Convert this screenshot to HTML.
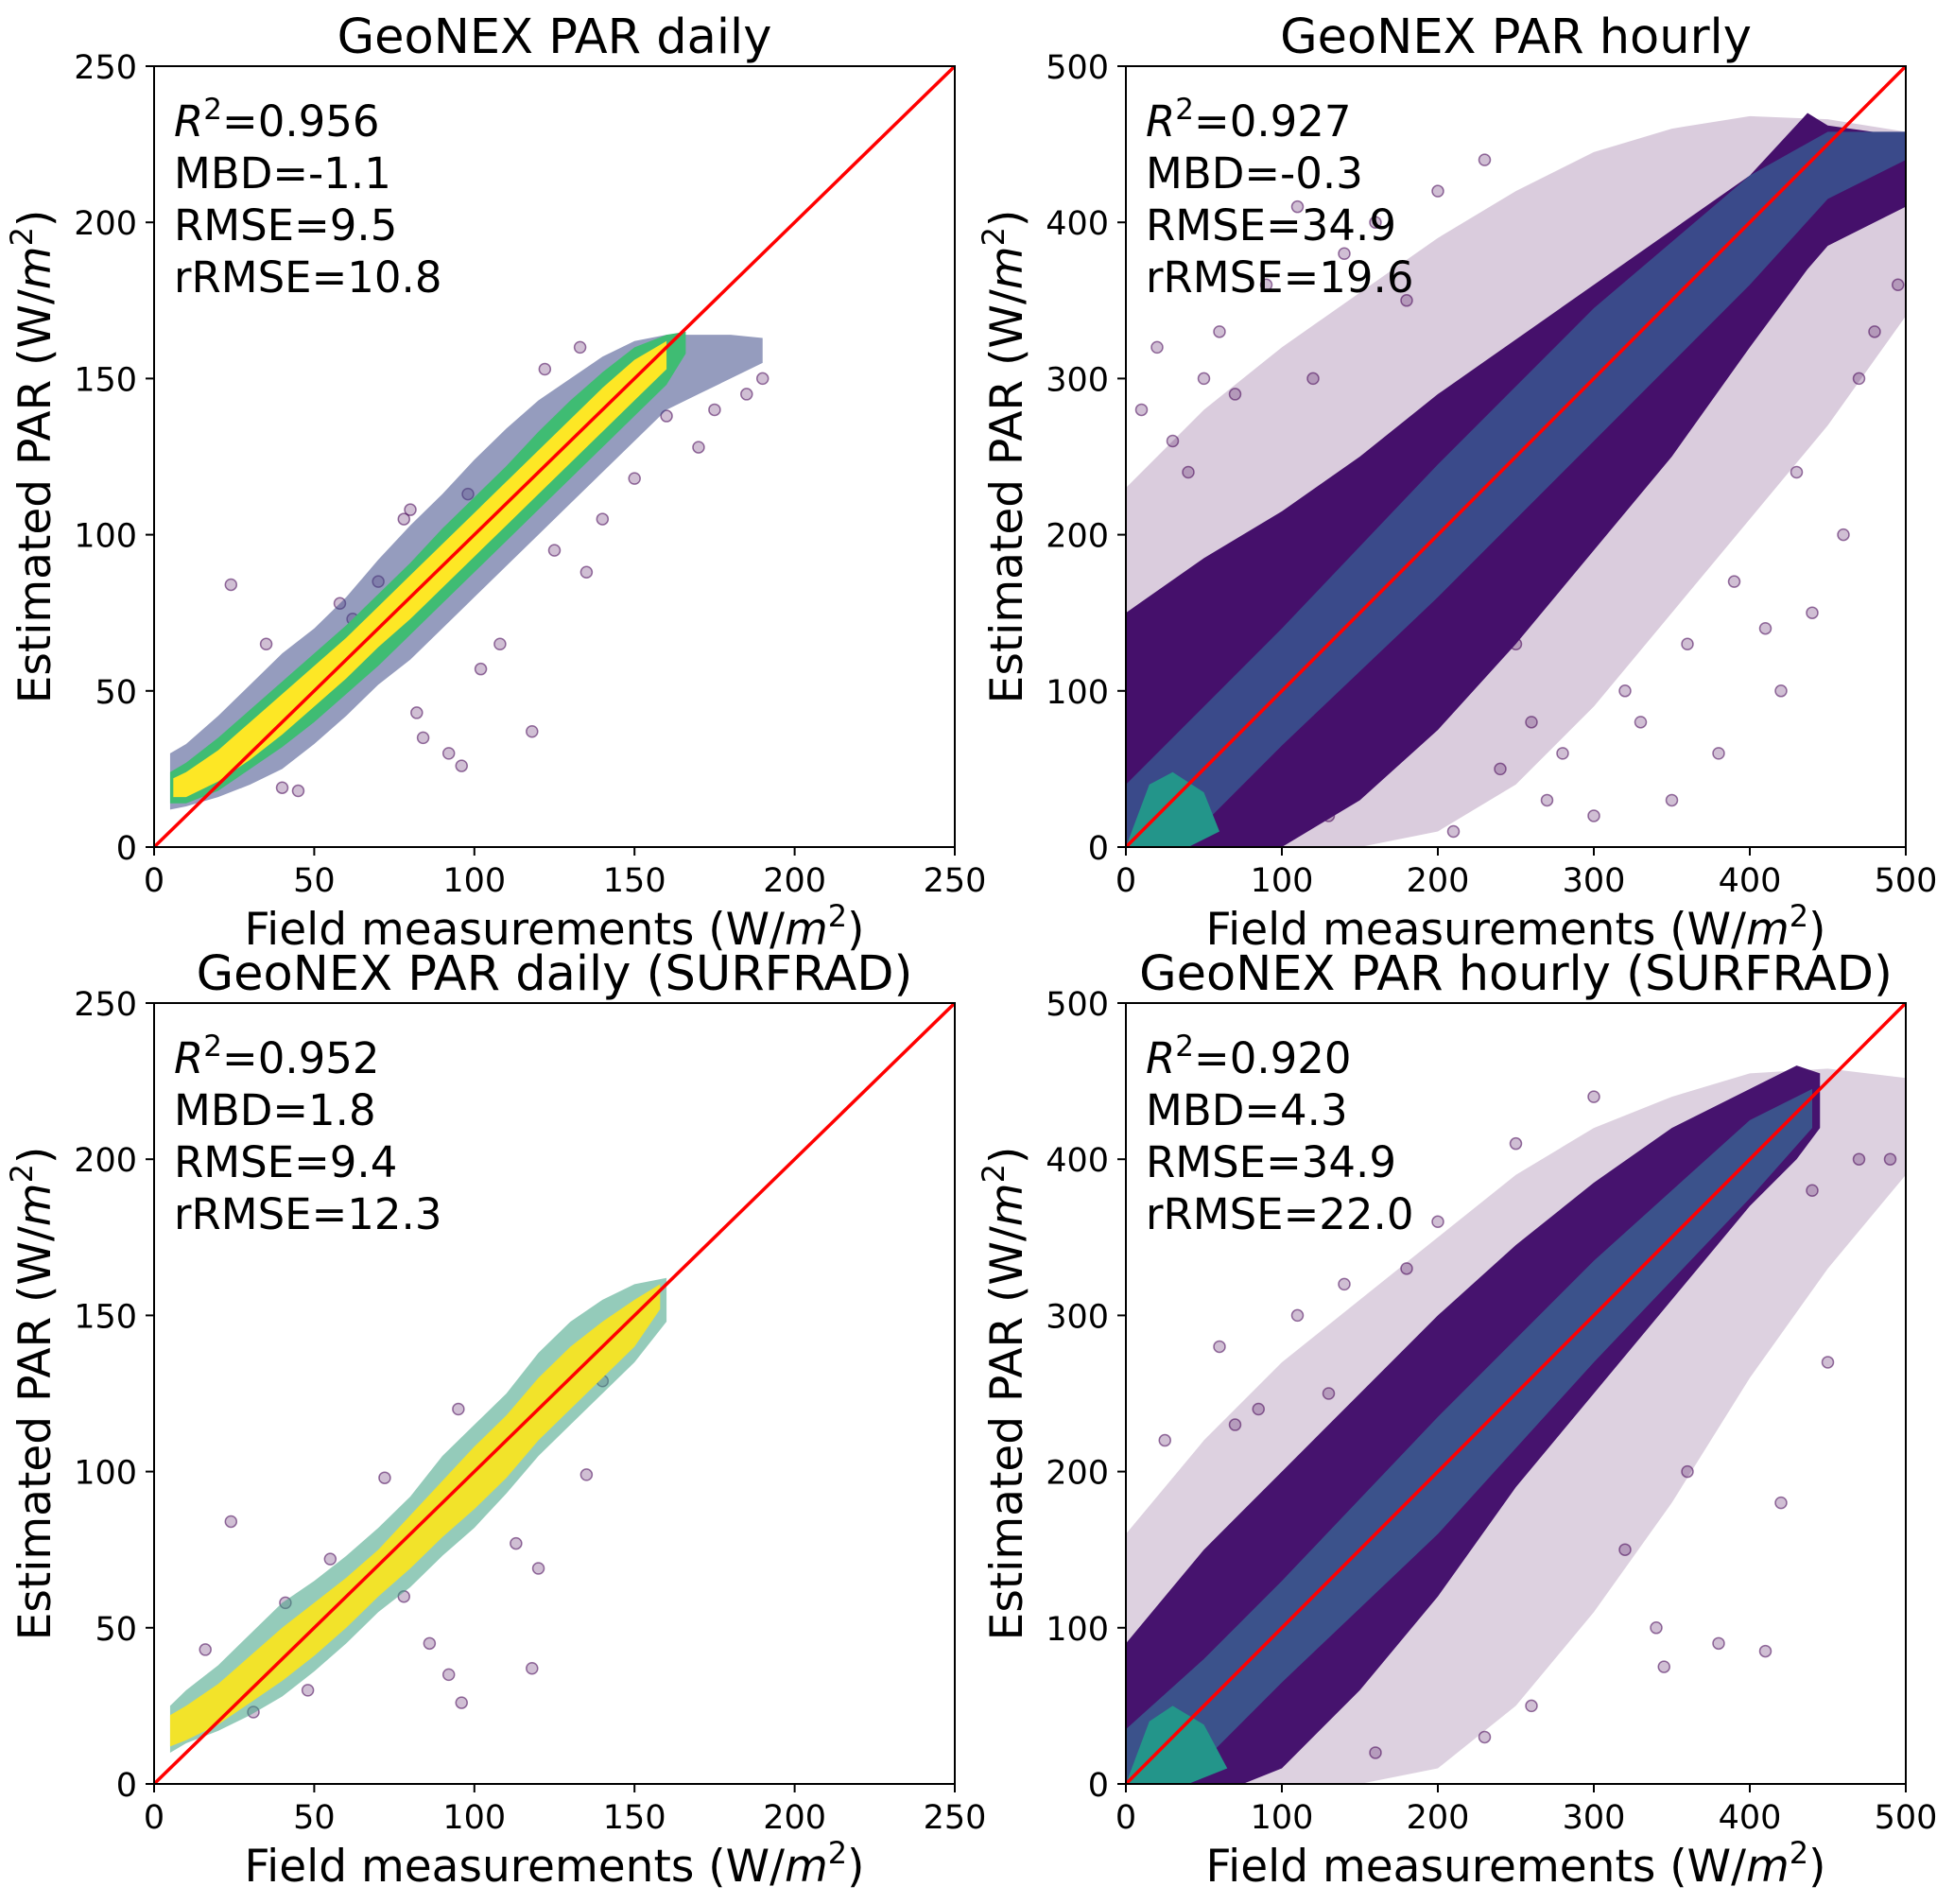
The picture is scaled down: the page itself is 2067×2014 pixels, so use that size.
<!DOCTYPE html>
<html><head><meta charset="utf-8"><style>
html,body{margin:0;padding:0;background:#fff;}
svg{display:block;font-family:"DejaVu Sans","Liberation Sans",sans-serif;}
</style></head><body>
<svg id="fig" width="2067" height="2014" viewBox="0 0 2067 2014" xmlns="http://www.w3.org/2000/svg"></svg>
<script>
// ---------- Panel 1: daily ----------
const p1OuterX = [5,10,20,30,40,50,60,70,80,90,100,110,120,130,140,150,160,170,180,190];
const p1OuterHi = [30,33,42,52,62,70,80,92,103,113,124,134,143,150,157,162,164,164,164,163];
const p1OuterLo = [12,13,16,20,25,33,42,52,60,70,80,90,100,110,120,130,140,145,150,155];
const p1MidX = [5,10,20,30,40,50,60,70,80,90,100,110,120,130,140,150,160,166];
const p1MidHi = [24,27,35,44,53,62,71,81,91,102,112,122,133,143,152,160,164,165];
const p1MidLo = [14,14,18,25,32,40,49,58,68,78,88,98,108,118,128,138,148,158];
const p1CoreX = [6,10,20,30,40,50,60,70,80,90,100,110,120,130,140,150,160];
const p1CoreHi = [22,24,31,40,49,58,67,77,87,97,107,117,127,137,147,156,162];
const p1CoreLo = [16,16,21,28,36,45,54,64,73,83,93,103,113,123,133,143,153];
const p1PtX = [24,118,96,92,84,82,20,35,62,70,78,80,135,140,150,170,185,190,122,133,45,40,102,108,58,98,125,113,160,175];
const p1PtY = [84,37,26,30,35,43,30,65,73,85,105,108,88,105,118,128,145,150,153,160,18,19,57,65,78,113,95,110,138,140];
// ---------- Panel 2: hourly ----------
const p2HaloX = [0,50,100,150,200,250,300,350,400,450,500];
const p2HaloHi = [230,280,320,355,390,420,445,460,468,466,458];
const p2HaloLo = [0,0,0,0,10,40,90,150,210,270,340];
const p2OuterX = [0,50,100,150,200,250,300,350,400,437,450,500];
const p2OuterHi = [150,185,215,250,290,325,360,395,430,470,462,455];
const p2OuterLo = [0,0,0,30,75,130,190,250,320,370,385,410];
const p2MidX = [0,50,100,200,300,400,450,500];
const p2MidHi = [40,90,140,245,345,430,458,458];
const p2MidLo = [0,15,65,160,260,360,415,440];
const p2CoreX = [0,15,30,50,60,40,20];
const p2CoreY = [0,40,48,35,10,0,0];
const p2PtX = [120,180,60,30,10,250,330,380,420,480,495,460,440,300,350,210,150,95,70,270,140,110,90,50,40,200,230,160,320,360,390,410,470,430,280,260,240,130,80,20];
const p2PtY = [300,350,330,260,280,130,80,60,100,330,360,200,150,20,30,10,60,5,290,30,380,410,360,300,240,420,440,400,100,130,170,140,300,240,60,80,50,20,30,320];
// ---------- Panel 3: daily SURFRAD ----------
const p3OuterX = [5,10,20,30,40,50,60,70,80,90,100,110,120,130,140,150,160];
const p3OuterHi = [25,30,38,48,58,65,73,82,92,105,115,125,138,148,155,160,162];
const p3OuterLo = [10,13,17,22,28,36,45,55,63,73,82,93,105,115,125,135,148];
const p3CoreX = [5,10,20,30,40,50,60,70,80,90,100,110,120,130,140,150,158];
const p3CoreHi = [22,25,32,41,50,58,66,75,86,97,108,118,130,140,148,155,160];
const p3CoreLo = [12,14,19,26,33,41,50,60,69,79,88,98,110,120,130,140,152];
const p3PtX = [24,118,96,92,86,113,135,16,31,48,62,78,105,95,72,55,41,120,140,145];
const p3PtY = [84,37,26,35,45,77,99,43,23,30,64,60,110,120,98,72,58,69,129,140];
// ---------- Panel 4: hourly SURFRAD ----------
const p4HaloX = [0,50,100,150,200,250,300,350,400,450,500];
const p4HaloHi = [160,220,270,310,350,390,420,440,455,458,452];
const p4HaloLo = [0,0,0,0,10,50,110,180,260,330,390];
const p4OuterX = [0,25,50,75,100,150,200,250,300,350,400,430,445];
const p4OuterHi = [90,120,150,175,200,250,300,345,385,420,445,460,455];
const p4OuterLo = [0,0,0,0,10,60,120,190,250,310,370,400,420];
const p4MidX = [0,50,100,200,300,400,440];
const p4MidHi = [35,80,130,235,335,425,445];
const p4MidLo = [0,15,65,160,270,375,420];
const p4CoreX = [0,15,30,50,65,40,20];
const p4CoreY = [0,40,50,38,10,0,0];
const p4PtX = [25,85,60,140,200,340,380,490,470,420,410,345,260,230,160,300,110,130,180,250,320,360,440,450,90,70];
const p4PtY = [220,240,280,320,360,100,90,400,400,180,85,75,50,30,20,440,300,250,330,410,150,200,380,270,20,230];

const NS = 'http://www.w3.org/2000/svg';
const svg = document.getElementById('fig');
function el(tag, attrs, parent){ const e=document.createElementNS(NS,tag); for(const k in attrs) e.setAttribute(k,attrs[k]); (parent||svg).appendChild(e); return e; }

function makeScales(L,T,W,H,max){ return { x:v=>L+v/max*W, y:v=>T+H-v/max*H }; }

function band(g, s, xs, hi, lo, fill, name){
  let pts = xs.map((x,i)=>s.x(x)+','+s.y(hi[i]));
  for(let i=xs.length-1;i>=0;i--) pts.push(s.x(xs[i])+','+s.y(lo[i]));
  const p = el('polygon',{points:pts.join(' '),fill:fill},g);
  
  
}
function blob(g, s, xs, ys, fill, name){
  const p = el('polygon',{points:xs.map((x,i)=>s.x(x)+','+s.y(ys[i])).join(' '),fill:fill},g);
  
  
}
function points(g, s, xs, ys, fill, stroke){
  xs.forEach((x,i)=>{
    const c = el('circle',{cx:s.x(x),cy:s.y(ys[i]),r:6,fill:fill,stroke:stroke,'stroke-width':1.5},g);
    
    
  });
}

function panel(id, L,T,W,H,max,step,title,stats,draw){
  const s = makeScales(L,T,W,H,max);
  const g = el('g',{});
  
  
  const cp = el('clipPath',{id:'clip-'+id},g);
  el('rect',{x:L,y:T,width:W,height:H},cp);
  const plot = el('g',{'clip-path':'url(#clip-'+id+')'},g);
  
  
  draw(plot,s);
  const ln = el('line',{x1:s.x(0),y1:s.y(0),x2:s.x(max),y2:s.y(max),stroke:'#ff0000','stroke-width':3.5},plot);
  
  
  const fr = el('rect',{x:L,y:T,width:W,height:H,fill:'none',stroke:'#000','stroke-width':2},g);
  
  
  for(let v=0; v<=max; v+=step){
    el('line',{x1:s.x(v),y1:T+H,x2:s.x(v),y2:T+H+9,stroke:'#000','stroke-width':2},g);
    const tx = el('text',{x:s.x(v),y:T+H+47,'font-size':35,'text-anchor':'middle'},g);
    tx.textContent = v;
    
    
    el('line',{x1:L-9,y1:s.y(v),x2:L,y2:s.y(v),stroke:'#000','stroke-width':2},g);
    const ty = el('text',{x:L-18,y:s.y(v)+13,'font-size':35,'text-anchor':'end'},g);
    ty.textContent = v;
    
    
  }
  const t = el('text',{x:L+W/2,y:T-14,'font-size':51,'text-anchor':'middle'},g);
  t.textContent = title;
  
  
  const xl = el('text',{x:L+W/2,y:T+H+103,'font-size':47,'text-anchor':'middle'},g);
  xl.innerHTML = 'Field measurements (W/<tspan font-style="italic">m</tspan><tspan font-size="32" dy="-19">2</tspan><tspan dy="19">)</tspan>';
  
  
  const cx = L-110, cy = T+H/2;
  const yl = el('text',{x:cx,y:cy,'font-size':47,'text-anchor':'middle',transform:'rotate(-90 '+cx+' '+cy+')'},g);
  yl.innerHTML = 'Estimated PAR (W/<tspan font-style="italic">m</tspan><tspan font-size="32" dy="-19">2</tspan><tspan dy="19">)</tspan>';
  
  
  const st = el('text',{x:L+21,y:T+74,'font-size':45},g);
  
  
  st.innerHTML = '<tspan font-style="italic">R</tspan><tspan font-size="31" dy="-18">2</tspan><tspan dy="18">='+stats[0]+'</tspan>'
    + '<tspan x="'+(L+21)+'" dy="55">MBD='+stats[1]+'</tspan>'
    + '<tspan x="'+(L+21)+'" dy="55">RMSE='+stats[2]+'</tspan>'
    + '<tspan x="'+(L+21)+'" dy="55">rRMSE='+stats[3]+'</tspan>';
}

const PURP='rgba(68,1,84,0.25)', PSTROKE='rgba(68,1,84,0.55)';

panel('daily',163,70,847,826,250,50,'GeoNEX PAR daily',['0.956','-1.1','9.5','10.8'],(g,s)=>{
  points(g,s,p1PtX,p1PtY,PURP,PSTROKE);
  band(g,s,p1OuterX,p1OuterHi,p1OuterLo,'rgba(62,74,137,0.55)','outer-density-band');
  band(g,s,p1MidX,p1MidHi,p1MidLo,'#3fbc73','mid-density-band');
  band(g,s,p1CoreX,p1CoreHi,p1CoreLo,'#fde725','core-density-band');
});
panel('hourly',1191,70,825,826,500,100,'GeoNEX PAR hourly',['0.927','-0.3','34.9','19.6'],(g,s)=>{
  band(g,s,p2HaloX,p2HaloHi,p2HaloLo,'rgba(68,1,84,0.20)','halo-density-band');
  points(g,s,p2PtX,p2PtY,PURP,PSTROKE);
  band(g,s,p2OuterX,p2OuterHi,p2OuterLo,'#45106b','outer-density-band');
  band(g,s,p2MidX,p2MidHi,p2MidLo,'#3a4a8a','mid-density-band');
  blob(g,s,p2CoreX,p2CoreY,'#23958a','core-density-band');
});
panel('daily-surfrad',163,1061,847,826,250,50,'GeoNEX PAR daily (SURFRAD)',['0.952','1.8','9.4','12.3'],(g,s)=>{
  points(g,s,p3PtX,p3PtY,PURP,PSTROKE);
  band(g,s,p3OuterX,p3OuterHi,p3OuterLo,'rgba(60,160,130,0.55)','outer-density-band');
  band(g,s,p3CoreX,p3CoreHi,p3CoreLo,'#f2e32a','core-density-band');
});
panel('hourly-surfrad',1191,1061,825,826,500,100,'GeoNEX PAR hourly (SURFRAD)',['0.920','4.3','34.9','22.0'],(g,s)=>{
  band(g,s,p4HaloX,p4HaloHi,p4HaloLo,'rgba(68,1,84,0.18)','halo-density-band');
  points(g,s,p4PtX,p4PtY,PURP,PSTROKE);
  band(g,s,p4OuterX,p4OuterHi,p4OuterLo,'#46136e','outer-density-band');
  band(g,s,p4MidX,p4MidHi,p4MidLo,'#3b528b','mid-density-band');
  blob(g,s,p4CoreX,p4CoreY,'#23958a','core-density-band');
});
</script>
</body></html>
